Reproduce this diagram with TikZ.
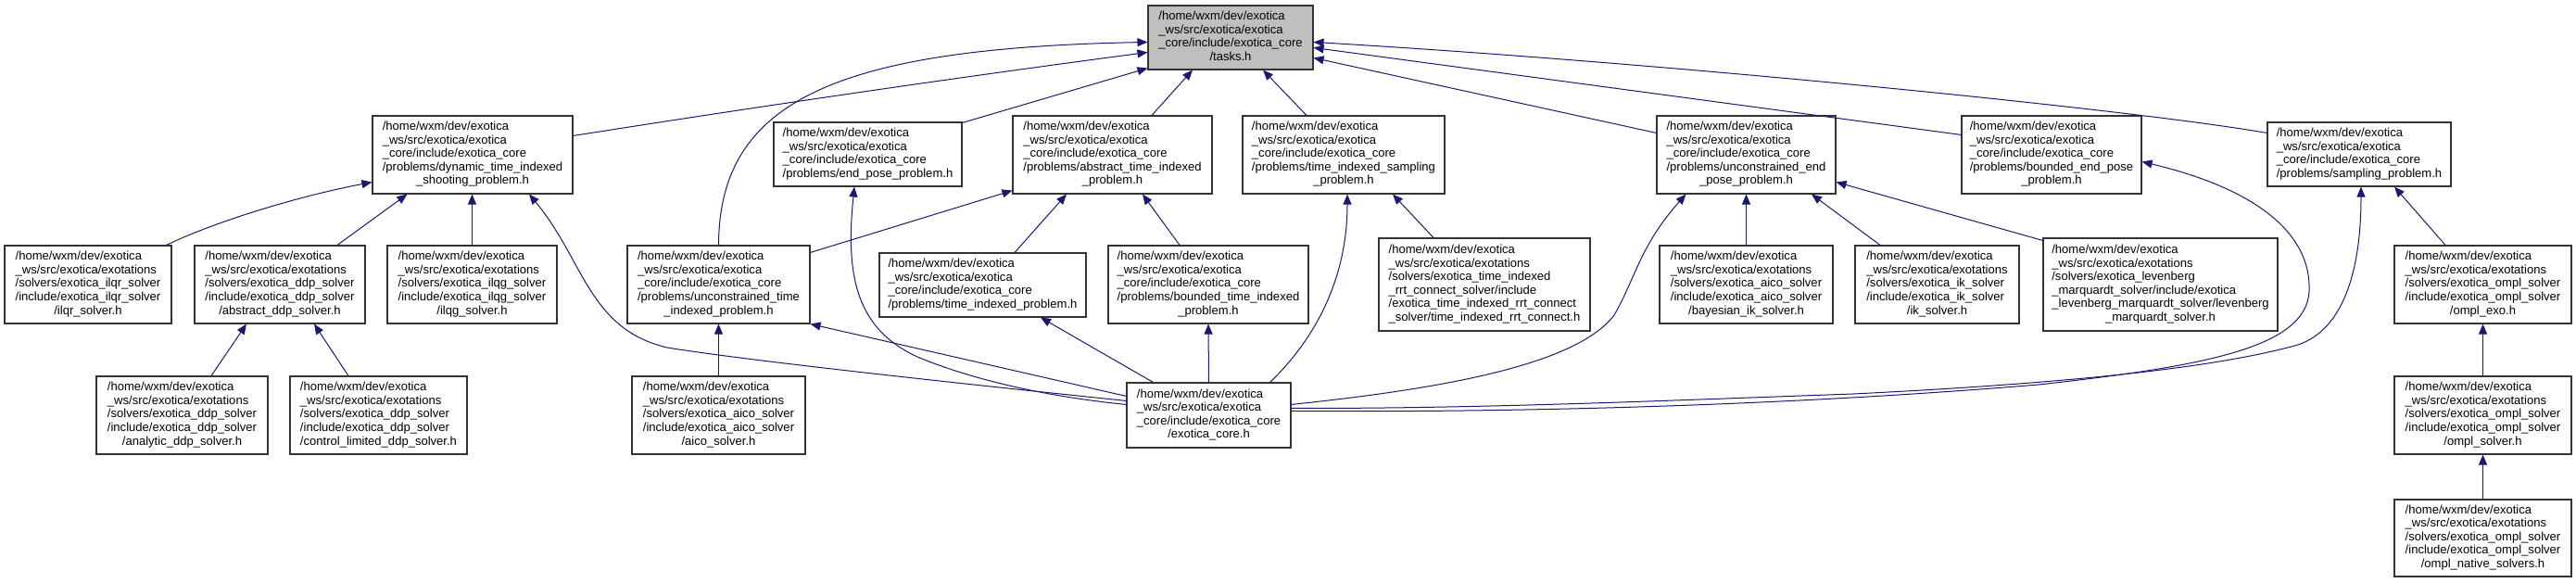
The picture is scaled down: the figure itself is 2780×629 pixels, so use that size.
\documentclass[tikz,border=0pt]{standalone}
\usepackage{fontspec}
\setmainfont{Liberation Sans}
\usetikzlibrary{arrows.meta,calc}
\definecolor{edgeblue}{HTML}{191970}
\definecolor{rootgray}{HTML}{BFBFBF}
\newcommand{\Lhome}{/home/wxm/dev/exotica}
\newcommand{\Lws}{\_ws/src/exotica/exotica}
\newcommand{\Lwst}{\_ws/src/exotica/exotations}
\newcommand{\Lcore}{\_core/include/exotica\_core}
\newcommand{\Lddp}{/solvers/exotica\_ddp\_solver\\/include/exotica\_ddp\_solver}
\newcommand{\Laico}{/solvers/exotica\_aico\_solver\\/include/exotica\_aico\_solver}
\newcommand{\Lompl}{/solvers/exotica\_ompl\_solver\\/include/exotica\_ompl\_solver}
\newcommand{\flines}[2]{\begin{tabular}{@{}l@{}}#1\\\multicolumn{1}{@{}c@{}}{#2}\end{tabular}}
\tikzset{
  filebox/.style={draw=black!80, line width=1.1bp, inner sep=0pt, rectangle,
    font=\fontsize{13.1}{14.6}\selectfont},
  rootbox/.style={filebox, fill=rootgray},
  incl/.style={draw=edgeblue, line width=1bp, -{Triangle[length=11bp,width=9bp]}},
}
\begin{document}
\begin{tikzpicture}[x=1bp,y=-1bp]
\useasboundingbox (0,0) rectangle (2780,629);
\fill[white] (0,0) rectangle (2780,629);
% row 0
\node[rootbox, minimum width=178bp, minimum height=69bp] (T) at (1328,40.5) {\flines{\Lhome\\\Lws\\\Lcore}{/tasks.h}};
% row 1
\node[filebox, minimum width=216bp, minimum height=84bp] (A) at (510,167) {\flines{\Lhome\\\Lws\\\Lcore\\/problems/dynamic\_time\_indexed}{\_shooting\_problem.h}};
\node[filebox, minimum width=203bp, minimum height=69bp] (B) at (936.5,166.5) {\flines{\Lhome\\\Lws\\\Lcore}{/problems/end\_pose\_problem.h}};
\node[filebox, minimum width=215bp, minimum height=84bp] (C) at (1200.5,167) {\flines{\Lhome\\\Lws\\\Lcore\\/problems/abstract\_time\_indexed}{\_problem.h}};
\node[filebox, minimum width=218bp, minimum height=84bp] (D) at (1450,167) {\flines{\Lhome\\\Lws\\\Lcore\\/problems/time\_indexed\_sampling}{\_problem.h}};
\node[filebox, minimum width=193bp, minimum height=84bp] (E) at (1884.5,167) {\flines{\Lhome\\\Lws\\\Lcore\\/problems/unconstrained\_end}{\_pose\_problem.h}};
\node[filebox, minimum width=194bp, minimum height=84bp] (F) at (2214,167) {\flines{\Lhome\\\Lws\\\Lcore\\/problems/bounded\_end\_pose}{\_problem.h}};
\node[filebox, minimum width=198bp, minimum height=69bp] (G) at (2546,166.5) {\flines{\Lhome\\\Lws\\\Lcore}{/problems/sampling\_problem.h}};
% row 2
\node[filebox, minimum width=180bp, minimum height=84bp] (H) at (95,307) {\flines{\Lhome\\\Lwst\\/solvers/exotica\_ilqr\_solver\\/include/exotica\_ilqr\_solver}{/ilqr\_solver.h}};
\node[filebox, minimum width=184bp, minimum height=84bp] (I) at (302,307) {\flines{\Lhome\\\Lwst\\\Lddp}{/abstract\_ddp\_solver.h}};
\node[filebox, minimum width=183bp, minimum height=84bp] (J) at (509.5,307) {\flines{\Lhome\\\Lwst\\/solvers/exotica\_ilqg\_solver\\/include/exotica\_ilqg\_solver}{/ilqg\_solver.h}};
\node[filebox, minimum width=197bp, minimum height=84bp] (K) at (775.5,307) {\flines{\Lhome\\\Lws\\\Lcore\\/problems/unconstrained\_time}{\_indexed\_problem.h}};
\node[filebox, minimum width=223bp, minimum height=69bp] (L) at (1060.5,307.5) {\flines{\Lhome\\\Lws\\\Lcore}{/problems/time\_indexed\_problem.h}};
\node[filebox, minimum width=216bp, minimum height=84bp] (M) at (1304,307) {\flines{\Lhome\\\Lws\\\Lcore\\/problems/bounded\_time\_indexed}{\_problem.h}};
\node[filebox, minimum width=228bp, minimum height=100bp] (R) at (1602,307) {\flines{\Lhome\\\Lwst\\/solvers/exotica\_time\_indexed\\\_rrt\_connect\_solver/include\\/exotica\_time\_indexed\_rrt\_connect}{\_solver/time\_indexed\_rrt\_connect.h}};
\node[filebox, minimum width=187bp, minimum height=84bp] (S) at (1884.5,307) {\flines{\Lhome\\\Lwst\\\Laico}{/bayesian\_ik\_solver.h}};
\node[filebox, minimum width=177bp, minimum height=84bp] (U) at (2090.5,307) {\flines{\Lhome\\\Lwst\\/solvers/exotica\_ik\_solver\\/include/exotica\_ik\_solver}{/ik\_solver.h}};
\node[filebox, minimum width=253bp, minimum height=100bp] (V) at (2331.5,307) {\flines{\Lhome\\\Lwst\\/solvers/exotica\_levenberg\\\_marquardt\_solver/include/exotica\\\_levenberg\_marquardt\_solver/levenberg}{\_marquardt\_solver.h}};
\node[filebox, minimum width=191bp, minimum height=84bp] (W) at (2679.5,307) {\flines{\Lhome\\\Lwst\\\Lompl}{/ompl\_exo.h}};
% row 3
\node[filebox, minimum width=185bp, minimum height=84bp] (X) at (196.5,448) {\flines{\Lhome\\\Lwst\\\Lddp}{/analytic\_ddp\_solver.h}};
\node[filebox, minimum width=191bp, minimum height=84bp] (Y) at (408.5,448) {\flines{\Lhome\\\Lwst\\\Lddp}{/control\_limited\_ddp\_solver.h}};
\node[filebox, minimum width=187bp, minimum height=84bp] (Z) at (775.5,448) {\flines{\Lhome\\\Lwst\\\Laico}{/aico\_solver.h}};
\node[filebox, minimum width=177bp, minimum height=70bp] (N) at (1304.5,448) {\flines{\Lhome\\\Lws\\\Lcore}{/exotica\_core.h}};
\node[filebox, minimum width=191bp, minimum height=84bp] (P) at (2679.5,448) {\flines{\Lhome\\\Lwst\\\Lompl}{/ompl\_solver.h}};
% row 4
\node[filebox, minimum width=191bp, minimum height=83bp] (Q) at (2679.5,580.5) {\flines{\Lhome\\\Lwst\\\Lompl}{/ompl\_native\_solvers.h}};
% edges into tasks.h
\draw[incl] ($(A.north east)+(0,22)$) .. controls (800,118) and (1000,88) .. ($(T.north west)+(0,51)$);
\draw[incl] (K.north) .. controls (776,110) and (900,52) .. ($(T.north west)+(0,40)$);
\draw[incl] ($(B.north east)+(0,1)$) -- ($(T.south west)+(0,-2)$);
\draw[incl] ($(C.north)+(42.5,0)$) -- ($(T.south)+(-41,0)$);
\draw[incl] ($(D.north)+(-40,0)$) -- ($(T.south)+(35,0)$);
\draw[incl] ($(E.north west)+(0,19)$) -- ($(T.north east)+(0,57)$);
\draw[incl] ($(F.north west)+(0,21)$) -- ($(T.north east)+(0,46)$);
\draw[incl] ($(G.north west)+(0,12)$) .. controls (2300,118) and (1800,68) .. ($(T.north east)+(0,40)$);
% edges into dynamic shooting problem
\draw[incl] ($(H.north east)+(-6,0)$) .. controls (230,240) and (320,212) .. ($(A.south west)+(0,-13)$);
\draw[incl] ($(I.north)+(62,0)$) -- ($(A.south west)+(38,0)$);
\draw[incl] (J.north) -- (J.north |- A.south);
\draw[incl] ($(N.north west)+(0,20)$) .. controls (1000,410) and (800,388) .. (720,375) .. controls (635,355) and (630,280) .. ($(A.south)+(61,0)$);
% edges into abstract ddp
\draw[incl] ($(X.north)+(31.5,0)$) -- ($(I.south)+(-36,0)$);
\draw[incl] ($(Y.north)+(-32.5,0)$) -- ($(I.south)+(37,0)$);
% edges into unconstrained time indexed
\draw[incl] (Z.north) -- (K.south);
\draw[incl] ($(N.north west)+(0,15)$) -- (K.south east);
% edges into abstract time indexed
\draw[incl] ($(K.north east)+(0,8)$) -- ($(C.south west)+(0,-4)$);
\draw[incl] ($(L.north)+(34.5,0)$) -- ($(C.south)+(-49.5,0)$);
\draw[incl] ($(M.north)+(-31,0)$) -- ($(C.south)+(32.5,0)$);
% edges from exotica_core
\draw[incl] ($(N.north west)+(0,24)$) .. controls (1130,428) and (1050,410) .. (990,385) .. controls (925,355) and (912,300) .. ($(B.south)+(-14.5,0)$);
\draw[incl] ($(N.north west)+(29,0)$) -- ($(L.south)+(62.5,0)$);
\draw[incl] (N.north) -- (M.south);
\draw[incl] ($(N.north east)+(-23,0)$) .. controls (1420,365) and (1454,300) .. ($(D.south)+(4,0)$);
\draw[incl] ($(N.north east)+(0,24)$) .. controls (1550,420) and (1700,395) .. (1742,340) .. controls (1765,300) and (1770,265) .. ($(E.south west)+(32,0)$);
\draw[incl] ($(N.north east)+(0,31)$) .. controls (1600,445) and (1900,440) .. (2200,415) .. controls (2380,395) and (2488,375) .. (2492,315) .. controls (2495,255) and (2440,205) .. ($(F.north east)+(0,50)$);
\draw[incl] ($(N.north east)+(0,28)$) .. controls (1600,441) and (1800,432) .. (2000,425) .. controls (2200,415) and (2380,400) .. (2480,372) .. controls (2530,355) and (2548,290) .. ($(G.south)+(2,0)$);
% edges into sampling problems
\draw[incl] ($(R.north)+(-55,0)$) -- ($(D.south)+(53,0)$);
% edges into unconstrained end pose
\draw[incl] (S.north) -- (E.south);
\draw[incl] ($(U.north)+(-61.5,0)$) -- ($(E.south)+(70.5,0)$);
\draw[incl] ($(V.north west)+(0,3)$) -- ($(E.north east)+(0,72)$);
% ompl chain
\draw[incl] ($(W.north)+(-40.5,0)$) -- ($(G.south)+(38,0)$);
\draw[incl] (P.north) -- (W.south);
\draw[incl] (Q.north) -- (P.south);
\end{tikzpicture}
\end{document}
